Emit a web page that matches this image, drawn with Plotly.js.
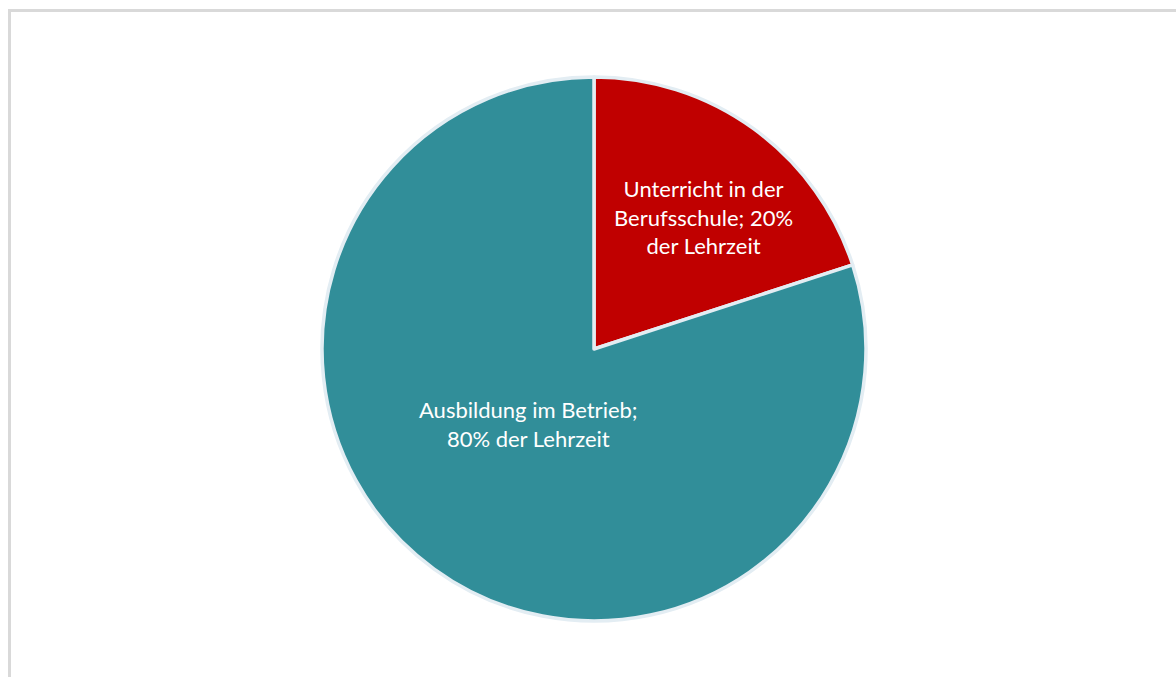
<!DOCTYPE html>
<html><head><meta charset="utf-8">
<script src="https://cdn.plot.ly/plotly-3.0.1.min.js"></script>
<style>html,body{margin:0;padding:0;background:#fff;}#chart{width:1176px;height:677px;}</style>
</head><body><div id="chart"></div>
<script>
const categories = ["Unterricht in der Berufsschule", "Ausbildung im Betrieb"];
const shares = [20, 80];
const labelLines = [
  ["Unterricht in der", "Berufsschule; 20%", "der Lehrzeit"],
  ["Ausbildung im Betrieb;", "80% der Lehrzeit"]
];
const colors = ["#C00000", "#318E99"];

const W = 1176, H = 677;
const cx = 594, cy = 349, r = 272;
const labelPos = [[703, 217], [528, 424]];

const trace = {
  type: "pie",
  labels: categories,
  values: shares,
  sort: false,
  direction: "clockwise",
  rotation: 0,
  textinfo: "none",
  hoverinfo: "label+percent",
  marker: {colors: colors, line: {color: "#E3EDF3", width: 3.5}},
  domain: {x: [(cx - r) / W, (cx + r) / W], y: [1 - (cy + r) / H, 1 - (cy - r) / H]}
};

const annotations = labelLines.map((lines, i) => ({
  text: lines.join("<br>"),
  x: labelPos[i][0] / W, y: 1 - labelPos[i][1] / H,
  xref: "paper", yref: "paper", showarrow: false,
  xanchor: "center", yanchor: "middle", align: "center",
  font: {family: "Lato, 'Open Sans', sans-serif", size: 22, color: "#ffffff"}
}));

const layout = {
  width: W, height: H,
  margin: {l: 0, r: 0, t: 0, b: 0},
  showlegend: false,
  paper_bgcolor: "#ffffff",
  annotations: annotations,
  shapes: [
    {type: "line", xref: "paper", yref: "paper", x0: 9.5 / W, x1: 9.5 / W, y0: 0, y1: 1 - 9 / H, line: {color: "#D9D9D9", width: 3}},
    {type: "line", xref: "paper", yref: "paper", x0: 8 / W, x1: 1, y0: 1 - 10.5 / H, y1: 1 - 10.5 / H, line: {color: "#D9D9D9", width: 3}}
  ]
};

Plotly.newPlot("chart", [trace], layout, {displayModeBar: false, staticPlot: true});
</script></body></html>
